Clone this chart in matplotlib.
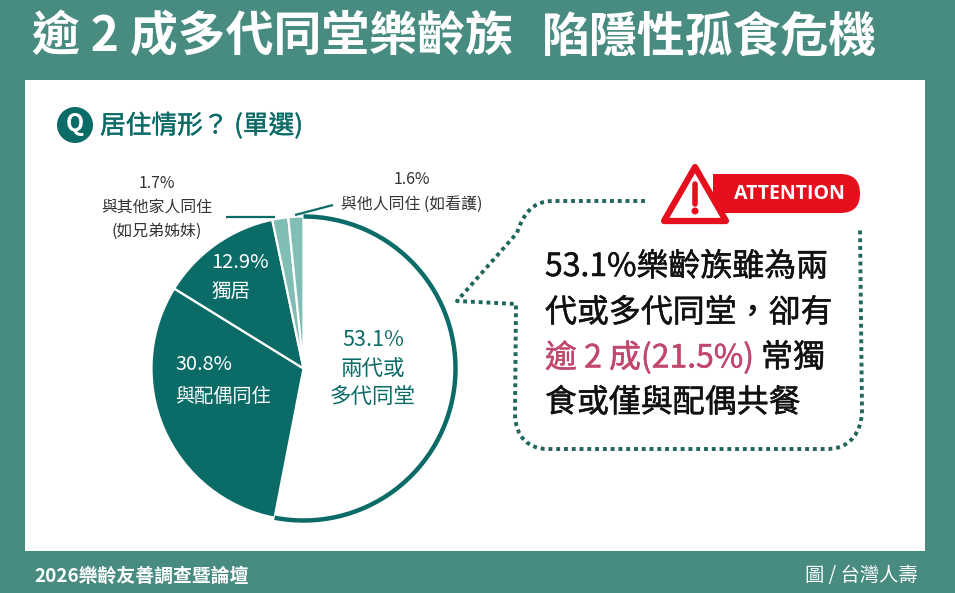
import matplotlib
matplotlib.use('Agg')
import matplotlib.pyplot as plt
import matplotlib.patheffects as pe
from matplotlib.patches import Rectangle, Circle, FancyBboxPatch, Polygon, PathPatch, Arc
from matplotlib.path import Path

plt.rcParams['font.family'] = ['Noto Sans CJK TC', 'DejaVu Sans']

# Data
categories = ['兩代或\n多代同堂', '與配偶同住', '獨居', '與其他家人同住\n(如兄弟姊妹)', '與他人同住 (如看護)']
shares = [53.1, 30.8, 12.9, 1.7, 1.6]
share_labels = ['53.1%', '30.8%', '12.9%', '1.7%', '1.6%']

TEAL_BG = '#488b81'
TEAL = '#0b6b67'
LIGHT = '#7fbdb5'
DOT = '#1f665c'
RED = '#e60f1e'
PINK = '#c2476d'
TEXT = '#333333'


def thick(color, w=0.5):
    # only Regular and Bold are installed, this fakes the medium weight
    return [pe.withStroke(linewidth=w, foreground=color)]


W, H = 955, 593
fig = plt.figure(figsize=(W / 100, H / 100), dpi=100, facecolor=TEAL_BG)

# background panel, pixel coords
bg = fig.add_axes([0, 0, 1, 1], zorder=0)
bg.set_xlim(0, W)
bg.set_ylim(H, 0)
bg.axis('off')
bg.add_patch(Rectangle((25, 80), 900, 471, fc='white', ec='none'))

# pie
cx, cy, r = 303.5, 368.5, 152
pad = 1.1
size = r * 2 * pad
ax = fig.add_axes([(cx - size / 2) / W, 1 - (cy + size / 2) / H, size / W, size / H], zorder=1)
colors = ['white', TEAL, TEAL, LIGHT, LIGHT]
wedges, _ = ax.pie(shares, startangle=90, counterclock=False, colors=colors, radius=1,
                   wedgeprops=dict(edgecolor='white', linewidth=1.6), normalize=True)
ax.set_xlim(-pad, pad)
ax.set_ylim(-pad, pad)
ax.axis('off')
# outer ring only on the big slice
ax.add_patch(Arc((0, 0), 2, 2, theta1=wedges[0].theta1, theta2=wedges[0].theta2,
                 color=TEAL, lw=3.2))

# everything else on top
top = fig.add_axes([0, 0, 1, 1], zorder=2)
top.set_xlim(0, W)
top.set_ylim(H, 0)
top.axis('off')
top.patch.set_alpha(0)

# title and heading
top.text(32, 37, '逾 2 成多代同堂樂齡族', color='white', fontsize=34.5, fontweight='bold', va='center', ha='left')
top.text(877, 37, '陷隱性孤食危機', color='white', fontsize=34.5, fontweight='bold', va='center', ha='right')
top.add_patch(Circle((75, 125), 18, fc=TEAL, ec='none'))
top.text(75, 124, 'Q', color='white', fontsize=17, fontweight='bold', ha='center', va='center')
top.text(100, 126, '居住情形？ (單選)', color=TEAL, fontsize=18.5, va='center', ha='left',
         path_effects=thick(TEAL, 0.3))

# pie labels
top.text(373, 340, share_labels[0], color=TEAL, fontsize=15.5, ha='center', va='center')
top.text(373, 383, categories[0], color=TEAL, fontsize=15.5, ha='center', va='center', linespacing=1.4)
top.text(204, 365, share_labels[1], color='white', fontsize=14.3, ha='center', va='center')
top.text(223, 396, categories[1], color='white', fontsize=13.8, ha='center', va='center')
top.text(240, 262, share_labels[2], color='white', fontsize=14.5, ha='center', va='center')
top.text(231, 291, categories[2], color='white', fontsize=14, ha='center', va='center')
top.text(157, 183, share_labels[3], color=TEXT, fontsize=11.4, ha='center', va='center')
top.text(157, 219, categories[3], color=TEXT, fontsize=11.4, ha='center', va='center', linespacing=1.55)
top.text(412, 180, share_labels[4], color=TEXT, fontsize=11.4, ha='center', va='center')
top.text(412, 204, categories[4], color=TEXT, fontsize=11.4, ha='center', va='center')
top.plot([226, 275], [217, 217], color=TEAL, lw=1.6, solid_capstyle='butt')
top.plot([295, 333], [215, 205], color=TEAL, lw=1.6, solid_capstyle='butt')

# dotted callout
verts = [(645, 201), (553, 201), (530, 201), (522, 218), (517, 233), (457, 301), (516, 304),
         (515, 413), (515, 438), (530, 449), (547, 449), (827, 449), (850, 449), (862, 432),
         (862, 410), (860, 227)]
codes = [Path.MOVETO, Path.LINETO, Path.CURVE4, Path.CURVE4, Path.CURVE4, Path.LINETO, Path.LINETO,
         Path.LINETO, Path.CURVE4, Path.CURVE4, Path.CURVE4, Path.LINETO, Path.CURVE4, Path.CURVE4,
         Path.CURVE4, Path.LINETO]
top.add_patch(PathPatch(Path(verts, codes), fc='none', ec=DOT, lw=2.8, linestyle=(0, (1, 1.0)),
                        capstyle='butt', joinstyle='round'))

# attention badge
top.add_patch(FancyBboxPatch((733, 174), 127, 39, boxstyle='round,pad=0,rounding_size=19.5',
                             fc=RED, ec='none', mutation_aspect=1))
top.add_patch(Rectangle((713, 174), 40, 39, fc=RED, ec='none'))
top.add_patch(Polygon([(695, 167), (664, 221), (726, 221)], closed=True, fc='white', ec=RED,
                      lw=4.5, joinstyle='round'))
top.plot([695, 695], [184, 204], color=RED, lw=4, solid_capstyle='round')
top.add_patch(Circle((695, 211), 3.5, fc=RED, ec='none'))
top.text(789, 194, 'ATTENTION', color='white', fontsize=14, fontweight='bold', ha='center', va='center',
         family=['Open Sans', 'DejaVu Sans'])

# callout text
body = dict(color='#111111', fontsize=23, va='center', ha='left', path_effects=thick('#111111', 0.35))
top.text(545, 267, '53.1%樂齡族雖為兩', **body)
top.text(545, 313, '代或多代同堂，卻有', **body)
top.text(545, 358, '逾 2 成(21.5%)', **{**body, 'color': PINK, 'path_effects': thick(PINK, 0.35)})
top.text(761, 358, '常獨', **body)
top.text(545, 403, '食或僅與配偶共餐', **body)

# footer
top.text(34, 577, '2026樂齡友善調查暨論壇', color='white', fontsize=13.6, fontweight='bold', va='center', ha='left')
top.text(918, 576, '圖 / 台灣人壽', color='white', fontsize=13.9, va='center', ha='right')

fig.savefig('out.png', dpi=100, facecolor=fig.get_facecolor())
